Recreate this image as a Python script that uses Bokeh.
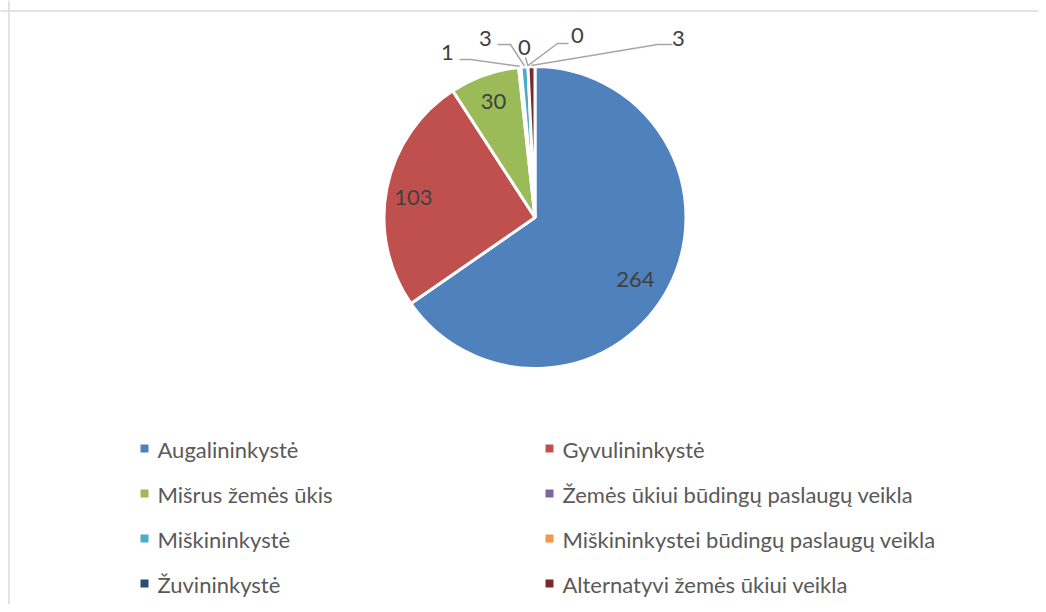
import math
from bokeh.plotting import figure
from bokeh.models import ColumnDataSource, Span
from bokeh.core.properties import value
from bokeh.embed import file_html
from bokeh.resources import INLINE

# ---- data ----
categories = ["Augalininkystė", "Gyvulininkystė", "Mišrus žemės ūkis",
              "Žemės ūkiui būdingų paslaugų veikla", "Miškininkystė",
              "Miškininkystei būdingų paslaugų veikla", "Žuvininkystė",
              "Alternatyvi žemės ūkiui veikla"]
counts = [264, 103, 30, 1, 3, 0, 0, 3]
colors = ["#4F81BD", "#C0504D", "#9BBB59", "#8064A2", "#4BACC6",
          "#F79646", "#2C4D75", "#772C2A"]

# ---- layout (pixel space of the screenshot) ----
W, H = 1038, 604
def X(px): return px
def Y(py): return H - py

CX, CY, R = 534.5, 217, 151
FONT = "Lato"

p = figure(width=W, height=H, x_range=(0, W), y_range=(0, H),
           x_axis_type=None, y_axis_type=None, toolbar_location=None,
           output_backend="svg", min_border=0)
p.grid.visible = False
p.outline_line_color = None
p.background_fill_color = "white"

# frame lines (left and top) of the chart area
p.add_layout(Span(location=Y(10.5), dimension="width", line_color="#D9D9D9", line_width=1.5))
p.add_layout(Span(location=X(8.5), dimension="height", line_color="#D9D9D9", line_width=1.5))

total = sum(counts)
starts, ends, mids = [], [], []
acc = 0
for c in counts:
    t0 = acc / total * 2 * math.pi
    acc += c
    t1 = acc / total * 2 * math.pi
    starts.append(t0); ends.append(t1); mids.append((t0 + t1) / 2)

idx = [i for i, c in enumerate(counts) if c > 0]
src = ColumnDataSource(dict(
    start=[math.pi / 2 - starts[i] for i in idx],
    end=[math.pi / 2 - ends[i] for i in idx],
    color=[colors[i] for i in idx]))
p.wedge(x=X(CX), y=Y(CY), radius=R, start_angle="start", end_angle="end",
        direction="clock", fill_color="color", line_color="white",
        line_width=3, source=src)

# inside labels for large slices (radial fraction + small pixel nudge)
inside = [0, 1, 2]
nudge = {0: (-4, 7.5), 1: (-6, 2.6), 2: (-2, -5)}
FR = 0.78
lx = [X(CX + FR * R * math.sin(mids[i]) + nudge[i][0]) for i in inside]
ly = [Y(CY - FR * R * math.cos(mids[i]) + nudge[i][1]) for i in inside]
p.text(x=lx, y=ly, text=[str(counts[i]) for i in inside],
       text_font=value(FONT), text_font_size="22px", text_color="#404040",
       text_align="center", text_baseline="middle")

# outside labels with leader lines: label centre, leader path points (px)
outside = {
    3: ((447, 52), [(459, 59), (470, 59)]),
    4: ((485, 38), [(497, 44), (510, 44)]),
    5: ((524, 47), [(525, 57)]),
    6: ((577, 35), [(568, 43), (557, 43)]),
    7: ((678, 38), [(672, 44), (657, 44)]),
}
xs_l, ys_l, tx, ty, tt = [], [], [], [], []
for i, (lab, pts) in outside.items():
    ax = CX + (R + 1) * math.sin(mids[i])
    ay = CY - (R + 1) * math.cos(mids[i])
    path = pts + [(ax, ay)]
    xs_l.append([X(a) for a, b in path])
    ys_l.append([Y(b) for a, b in path])
    tx.append(X(lab[0])); ty.append(Y(lab[1])); tt.append(str(counts[i]))
p.multi_line(xs=xs_l, ys=ys_l, line_color="#A6A6A6", line_width=1.5)
p.text(x=tx, y=ty, text=tt, text_font=value(FONT), text_font_size="22px",
       text_color="#404040", text_align="center", text_baseline="middle")

# legend, two columns
col_sq = [144, 549]
col_tx = [157, 562]
row_mid = [448, 493, 538, 583]
sx, sy, gx, gy = [], [], [], []
for k, name in enumerate(categories):
    r, c = divmod(k, 2)
    sx.append(X(col_sq[c])); sy.append(Y(row_mid[r]))
    gx.append(X(col_tx[c])); gy.append(Y(row_mid[r] + 0.5))
p.rect(x=sx, y=sy, width=8, height=8, fill_color=colors, line_color=None)
p.text(x=gx, y=gy, text=categories, text_font=value(FONT), text_font_size="22px",
       text_color="#595959", text_align="left", text_baseline="middle")

open("out.html", "w").write(file_html(p, INLINE))
